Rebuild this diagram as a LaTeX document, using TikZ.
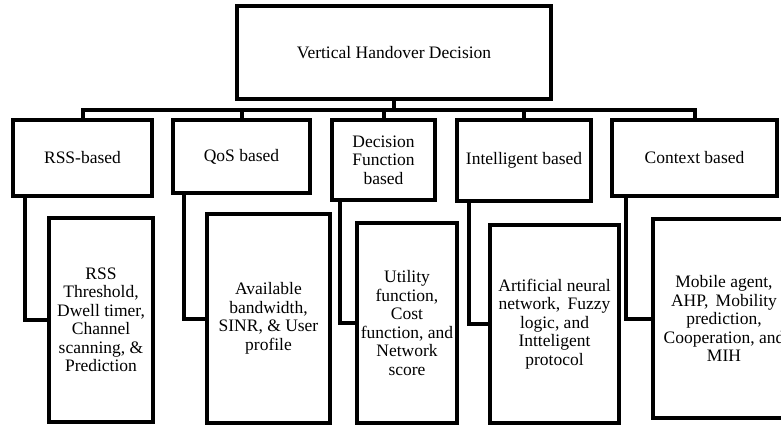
\documentclass[tikz,border=0pt]{standalone}
\usepackage{fontspec}
\setmainfont{Liberation Serif}

\begin{document}
\begin{tikzpicture}[x=1pt,y=-1pt,
        catbox/.style={draw, line width=4pt, align=center, inner sep=2pt,
            font=\fontsize{17.5}{18.5}\selectfont},
        detailbox/.style={catbox}]
        \useasboundingbox (0,0) rectangle (781,425);

        \node[catbox, minimum width=314pt, minimum height=93pt] (vhd) at (394,52.5) {Vertical Handover Decision};

        \node[catbox, minimum width=139pt, minimum height=76pt] (rss) at (82.5,158) {RSS-based};
        \node[catbox, minimum width=137pt, minimum height=73pt] (qos) at (241.5,156.5) {QoS based};
        \node[catbox, minimum width=103pt, minimum height=80pt] (dfb) at (383.5,160) {Decision\\Function\\based};
        \node[catbox, minimum width=134pt, minimum height=81pt] (intel) at (524,160.5) {Intelligent based};
        \node[catbox, minimum width=165pt, minimum height=76pt] (ctx) at (694.5,158) {Context based};

        \node[detailbox, minimum width=104pt, minimum height=204pt] (rssd) at (101,320) {RSS\\Threshold,\\Dwell timer,\\Channel\\scanning, \&\\Prediction};
        \node[detailbox, minimum width=123pt, minimum height=209pt] (qosd) at (268.5,318.5) {Available\\bandwidth,\\SINR, \& User\\profile};
        \node[detailbox, minimum width=100pt, minimum height=200pt] (dfbd) at (407,323) {Utility\\function,\\Cost\\function, and\\Network\\score};
        \node[detailbox, minimum width=129pt, minimum height=198pt] (inteld) at (554.5,324) {Artificial neural\\network,\, Fuzzy\\logic, and\\Intteligent\\protocol};
        \node[detailbox, minimum width=142pt, minimum height=199pt] (ctxd) at (724,318.5) {Mobile agent,\\AHP,\, Mobility\\prediction,\\Cooperation, and\\MIH};

        \coordinate (bus) at (394,110);
        \draw[line width=4pt] (vhd.south) -- (bus);
        \draw[line width=4pt] (rss.north) |- (bus) -| (ctx.north);
        \foreach \n in {qos,dfb,intel}
            \draw[line width=4pt] (\n.north) -- (\n.north |- bus);

        \draw[line width=4pt] ([xshift=14pt]rss.south west) |- (rssd.west);
        \draw[line width=4pt] ([xshift=13pt]qos.south west) |- (qosd.west);
        \draw[line width=4pt] ([xshift=10pt]dfb.south west) |- (dfbd.west);
        \draw[line width=4pt] ([xshift=14pt]intel.south west) |- (inteld.west);
        \draw[line width=4pt] ([xshift=16pt]ctx.south west) |- (ctxd.west);
\end{tikzpicture}
\end{document}
